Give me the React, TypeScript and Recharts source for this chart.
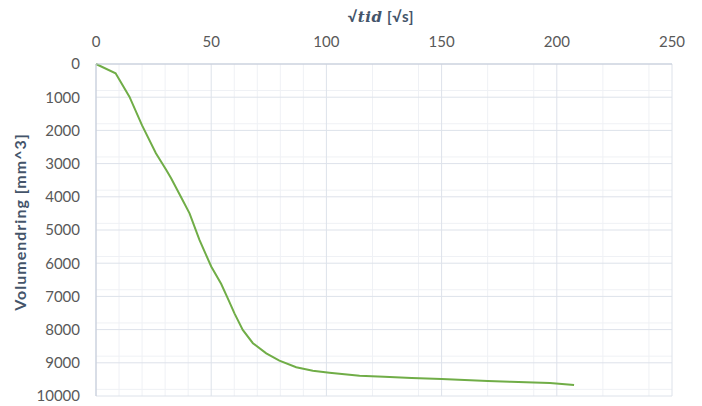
import { LineChart, Line, XAxis, YAxis, CartesianGrid, Label } from "recharts";

// √tid [√s] and volume change [mm^3]
const rootTime = [
  0, 8.5, 14.5, 20, 26, 30.5, 32.6, 37, 40.6, 44.9, 50, 54.3, 57.2, 60.1, 63.7,
  68.1, 73.9, 79.6, 86.9, 94.1, 101.3, 114.4, 125, 137, 150, 160, 170, 180,
  190, 197, 207.5,
];
const volumeChange = [
  0, 280, 985, 1850, 2690, 3190, 3440, 4020, 4500, 5300, 6100, 6620, 7060,
  7510, 8010, 8410, 8715, 8935, 9135, 9240, 9300, 9390, 9420, 9455, 9490,
  9520, 9545, 9570, 9590, 9610, 9670,
];

const xTicks = [0, 50, 100, 150, 200, 250];
const yTicks = [0, 1000, 2000, 3000, 4000, 5000, 6000, 7000, 8000, 9000, 10000];
const xMinor = [10, 20, 30, 40, 60, 70, 80, 90, 110, 120, 130, 140, 160, 170, 180, 190, 210, 220, 230, 240];
const yMinor = yTicks.flatMap((v) => [200, 400, 600, 800].map((d) => v + d)).filter((v) => v < 10000);

const data = rootTime.map((t, i) => ({ t, v: volumeChange[i] }));

const FONT = "Lato, 'Open Sans', sans-serif";
const TEXT = "#595959";
const AXIS = "#c3cad8";

function XTitle(props: any) {
  const vb = props.viewBox || {};
  const cx = (vb.x ?? 96) + (vb.width ?? 576) / 2 - 3;
  return (
    <text x={cx} y={22} textAnchor="middle" fill="#44546a" fontFamily={FONT} fontSize={15} fontWeight="bold" letterSpacing={0.6}>
      <tspan>√</tspan>
      <tspan fontStyle="italic" fontFamily="'DejaVu Serif', serif">tid</tspan>
      <tspan> [√s]</tspan>
    </text>
  );
}

export default function App() {
  return (
    <div style={{ position: "absolute", left: 0, top: 0, width: 702, height: 406, background: "#fff" }}>
      <LineChart
        width={702}
        height={406}
        data={data}
        margin={{ top: 0, right: 30, bottom: 10, left: 0 }}
        style={{ fontFamily: FONT }}
      >
        <CartesianGrid stroke="#eff1f5" strokeWidth={1} verticalValues={xMinor} horizontalValues={yMinor} />
        <CartesianGrid stroke="#dde2ea" strokeWidth={1} verticalValues={xTicks} horizontalValues={yTicks} />
        <XAxis
          dataKey="t"
          type="number"
          orientation="top"
          domain={[0, 250]}
          ticks={xTicks}
          height={64}
          tickLine={false}
          tickSize={8}
          tickMargin={9}
          stroke={AXIS}
          tick={{ fill: TEXT, fontSize: 15, fontFamily: FONT }}
        >
          <Label content={<XTitle />} />
        </XAxis>
        <YAxis
          type="number"
          reversed
          domain={[0, 10000]}
          ticks={yTicks}
          width={96}
          tickLine={false}
          tickSize={8}
          tickMargin={8}
          stroke={AXIS}
          tick={{ fill: TEXT, fontSize: 15, fontFamily: FONT }}
        >
          <Label
            value="Volumendring [mm^3]"
            angle={-90}
            position="insideLeft"
            offset={20}
            dy={-8}
            style={{
              textAnchor: "middle",
              fill: "#44546a",
              fontSize: 16,
              fontWeight: "bold",
              fontFamily: FONT,
              letterSpacing: 1,
            }}
          />
        </YAxis>
        <Line
          dataKey="v"
          type="linear"
          stroke="#70ad47"
          strokeWidth={2}
          dot={false}
          isAnimationActive={false}
        />
      </LineChart>
    </div>
  );
}
